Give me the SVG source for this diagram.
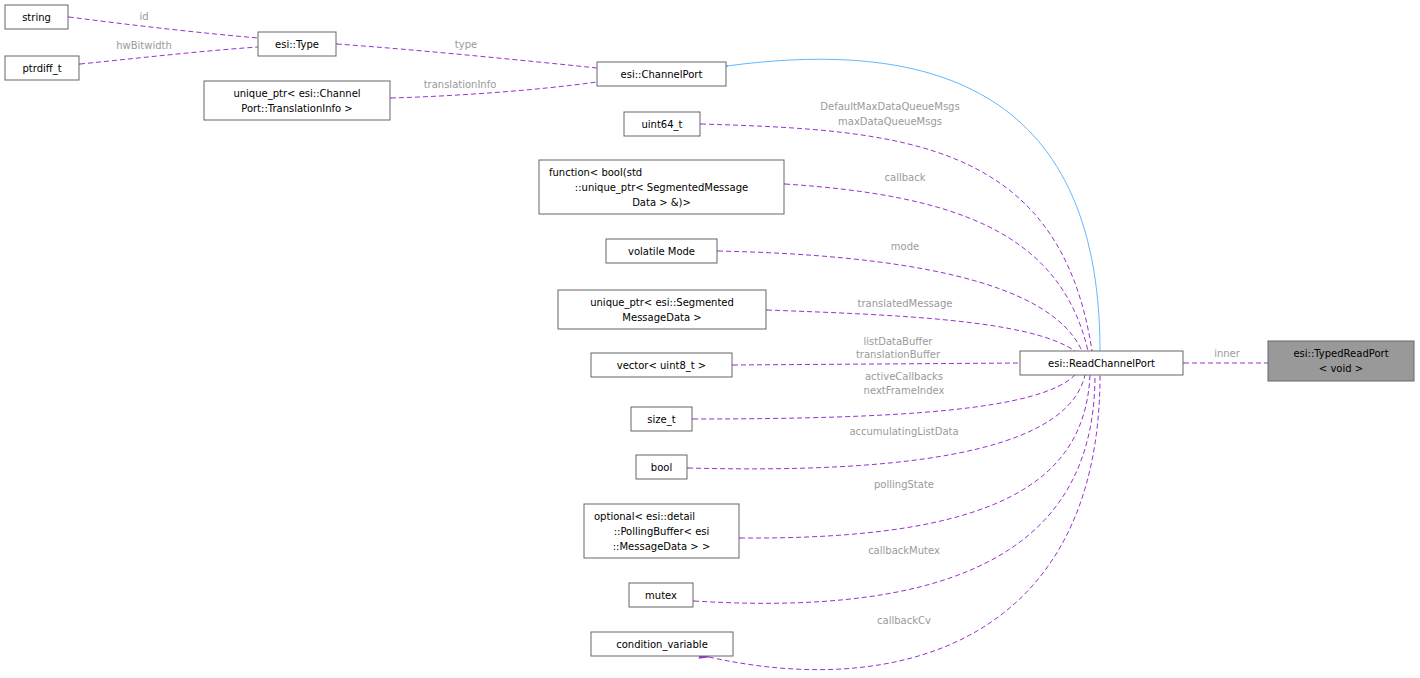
<svg xmlns="http://www.w3.org/2000/svg" width="1420" height="678" viewBox="0 0 1420 678">
<defs>
<style>
.n rect{fill:#fff;stroke:#666;stroke-width:1}
text{font-family:"DejaVu Sans",sans-serif;font-size:10px;fill:#000}
.lb{fill:#9a9a9a;text-anchor:middle}
.e{fill:none;stroke:#9a32cd;stroke-dasharray:5,3}
.i{fill:none;stroke:#63b8ff}
</style>
<marker id="pa" markerWidth="11" markerHeight="8" refX="1" refY="4" orient="auto-start-reverse" markerUnits="userSpaceOnUse"><path d="M11,0L0,4L11,8z" fill="#9a32cd"/></marker>
<marker id="ba" markerWidth="11" markerHeight="8" refX="1" refY="4" orient="auto-start-reverse" markerUnits="userSpaceOnUse"><path d="M11,0L0,4L11,8z" fill="#63b8ff" stroke="#63b8ff"/></marker>
</defs>
<rect width="1420" height="678" fill="#fff"/>
<g id="edges">
<path class="e" marker-start="url(#pa)" d="M69,17 C130,25 200,33 258,38"/>
<text class="lb" x="144" y="20">id</text>
<path class="e" marker-start="url(#pa)" d="M80,64 C140,58 200,51 258,47"/>
<text class="lb" x="144" y="49">hwBitwidth</text>
<path class="e" marker-start="url(#pa)" d="M337,44 C420,50 520,60 597,68"/>
<text class="lb" x="466" y="48">type</text>
<path class="e" marker-start="url(#pa)" d="M391,98 C460,96 540,90 597,82"/>
<text class="lb" x="460" y="88">translationInfo</text>
<path class="i" marker-start="url(#ba)" d="M727,66 C920,40 1100,80 1100,351"/>
<path class="e" marker-start="url(#pa)" d="M701,124 C900,130 1060,140 1092,351"/>
<text class="lb" x="890" y="110">DefaultMaxDataQueueMsgs</text>
<text class="lb" x="890" y="125">maxDataQueueMsgs</text>
<path class="e" marker-start="url(#pa)" d="M785,184 C950,195 1060,230 1088,351"/>
<text class="lb" x="905" y="181">callback</text>
<path class="e" marker-start="url(#pa)" d="M718,251 C900,255 1050,280 1082,351"/>
<text class="lb" x="905" y="250">mode</text>
<path class="e" marker-start="url(#pa)" d="M767,310 C900,315 1030,320 1075,351"/>
<text class="lb" x="905" y="307">translatedMessage</text>
<path class="e" marker-start="url(#pa)" d="M733,365 L1020,363"/>
<text class="lb" x="898" y="345">listDataBuffer</text>
<text class="lb" x="898" y="358">translationBuffer</text>
<path class="e" marker-start="url(#pa)" d="M693,419 C900,419 1040,410 1075,375"/>
<text class="lb" x="904" y="380">activeCallbacks</text>
<text class="lb" x="904" y="394">nextFrameIndex</text>
<path class="e" marker-start="url(#pa)" d="M688,468 C950,475 1070,440 1085,375"/>
<text class="lb" x="904" y="435">accumulatingListData</text>
<path class="e" marker-start="url(#pa)" d="M740,538 C1000,540 1085,480 1090,375"/>
<text class="lb" x="904" y="488">pollingState</text>
<path class="e" marker-start="url(#pa)" d="M694,601 C1000,620 1095,520 1095,375"/>
<text class="lb" x="904" y="554">callbackMutex</text>
<path class="e" marker-start="url(#pa)" d="M709,657 C900,700 1100,640 1100,375"/>
<text class="lb" x="904" y="624">callbackCv</text>
<path class="e" marker-start="url(#pa)" d="M1184,363 L1268,363"/>
<text class="lb" x="1227" y="357">inner</text>
</g>
<g id="string" class="n"><rect x="5" y="5" width="63" height="24"/><text x="36.5" y="21" text-anchor="middle">string</text></g>
<g id="ptrdiff_t" class="n"><rect x="5" y="56" width="74" height="24"/><text x="42" y="72" text-anchor="middle">ptrdiff_t</text></g>
<g id="type" class="n"><rect x="258" y="32" width="78" height="24"/><text x="297" y="48" text-anchor="middle">esi::Type</text></g>
<g id="translationinfo" class="n"><rect x="204" y="81" width="186" height="39"/><text x="297" y="97" text-anchor="middle">unique_ptr&lt; esi::Channel</text><text x="297" y="112" text-anchor="middle">Port::TranslationInfo &gt;</text></g>
<g id="channelport" class="n"><rect x="597" y="62" width="129" height="24"/><text x="661.5" y="78" text-anchor="middle">esi::ChannelPort</text></g>
<g id="uint64" class="n"><rect x="624" y="112" width="76" height="24"/><text x="662" y="128" text-anchor="middle">uint64_t</text></g>
<g id="function" class="n"><rect x="539" y="160" width="245" height="54"/><text x="549" y="176">function&lt; bool(std</text><text x="661.5" y="191" text-anchor="middle">::unique_ptr&lt; SegmentedMessage</text><text x="661.5" y="206" text-anchor="middle">Data &gt; &amp;)&gt;</text></g>
<g id="mode" class="n"><rect x="606" y="239" width="111" height="24"/><text x="661.5" y="255" text-anchor="middle">volatile Mode</text></g>
<g id="segmented" class="n"><rect x="558" y="290" width="208" height="39"/><text x="662" y="306" text-anchor="middle">unique_ptr&lt; esi::Segmented</text><text x="662" y="321" text-anchor="middle">MessageData &gt;</text></g>
<g id="vector" class="n"><rect x="591" y="353" width="141" height="24"/><text x="661.5" y="369" text-anchor="middle">vector&lt; uint8_t &gt;</text></g>
<g id="size_t" class="n"><rect x="631" y="407" width="61" height="24"/><text x="661.5" y="423" text-anchor="middle">size_t</text></g>
<g id="bool" class="n"><rect x="636" y="455" width="51" height="24"/><text x="661.5" y="471" text-anchor="middle">bool</text></g>
<g id="optional" class="n"><rect x="584" y="504" width="155" height="54"/><text x="594" y="520">optional&lt; esi::detail</text><text x="661.5" y="535" text-anchor="middle">::PollingBuffer&lt; esi</text><text x="661.5" y="550" text-anchor="middle">::MessageData &gt; &gt;</text></g>
<g id="mutex" class="n"><rect x="629" y="583" width="64" height="24"/><text x="661" y="599" text-anchor="middle">mutex</text></g>
<g id="condvar" class="n"><rect x="591" y="632" width="142" height="24"/><text x="662" y="648" text-anchor="middle">condition_variable</text></g>
<g id="readchannelport" class="n"><rect x="1020" y="351" width="163" height="24"/><text x="1101.5" y="367" text-anchor="middle">esi::ReadChannelPort</text></g>
<g id="typedreadport" class="n"><rect x="1268" y="341" width="146" height="40" style="fill:#999"/><text x="1341" y="357" text-anchor="middle">esi::TypedReadPort</text><text x="1341" y="372" text-anchor="middle">&lt; void &gt;</text></g>
</svg>
